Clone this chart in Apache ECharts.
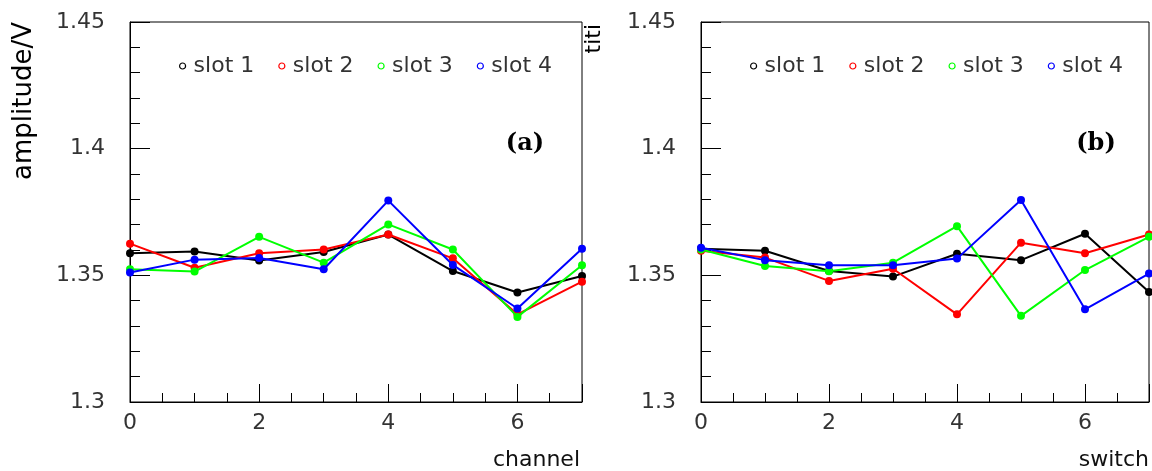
<!DOCTYPE html>
<html><head><meta charset="utf-8">
<script src="https://cdn.jsdelivr.net/npm/echarts@6/dist/echarts.min.js"></script>
<style>html,body{margin:0;padding:0;background:#fff}#c{width:1152px;height:471px}</style>
</head><body><div id="c"></div><script>
const xValues = [0, 1, 2, 3, 4, 5, 6, 7];
const seriesNames = ['slot 1', 'slot 2', 'slot 3', 'slot 4'];
const seriesColors = ['#000000', '#ff0000', '#00ff00', '#0000ff'];
const yTickValues = [1.3, 1.35, 1.4, 1.45];

// panel (a): amplitude vs channel
const channelSlot1 = [1.3587, 1.3594, 1.3559, 1.3592, 1.3661, 1.3517, 1.3432, 1.3497];
const channelSlot2 = [1.3625, 1.3530, 1.3587, 1.3602, 1.3661, 1.3567, 1.3346, 1.3475];
const channelSlot3 = [1.3524, 1.3515, 1.3652, 1.3550, 1.3701, 1.3602, 1.3336, 1.3540];
const channelSlot4 = [1.3511, 1.3562, 1.3568, 1.3524, 1.3795, 1.3541, 1.3369, 1.3605];

// panel (b): amplitude vs switch
const switchSlot1 = [1.3605, 1.3597, 1.3517, 1.3495, 1.3585, 1.3560, 1.3664, 1.3434];
const switchSlot2 = [1.3597, 1.3570, 1.3478, 1.3526, 1.3346, 1.3629, 1.3587, 1.3661];
const switchSlot3 = [1.3602, 1.3537, 1.3516, 1.3550, 1.3694, 1.3340, 1.3521, 1.3652];
const switchSlot4 = [1.3609, 1.3560, 1.3540, 1.3540, 1.3566, 1.3797, 1.3366, 1.3507];

const panels = [
  { data: [channelSlot1, channelSlot2, channelSlot3, channelSlot4], left: 130, width: 452, xName: 'channel', tag: '(a)' },
  { data: [switchSlot1, switchSlot2, switchSlot3, switchSlot4], left: 701, width: 450, xName: 'switch', tag: '(b)' }
];

const FONT = 'DejaVu Sans';
const TXT = '#333';
const TOP = 22, HEIGHT = 380;

const grid = [], xAxis = [], yAxis = [], series = [], legend = [], graphic = [];
panels.forEach((p, pi) => {
  grid.push({ left: p.left, width: p.width, top: TOP, height: HEIGHT, show: true, borderColor: '#000', borderWidth: 1, backgroundColor: 'transparent' });
  // major x axis
  xAxis.push({
    type: 'value', gridIndex: pi, min: 0, max: 7, interval: 2, position: 'bottom',
    axisLine: { show: true, lineStyle: { color: '#000', width: 1 } },
    axisTick: { show: true, inside: true, length: 18, lineStyle: { color: '#000', width: 1 } },
    axisLabel: { show: true, margin: 10, fontFamily: FONT, fontSize: 22, color: TXT,
      formatter: v => (v % 2 === 0 ? String(v) : '') },
    splitLine: { show: false }
  });
  // minor x axis (ticks every 0.5)
  xAxis.push({
    type: 'value', gridIndex: pi, min: 0, max: 7, interval: 0.5, position: 'bottom',
    axisLine: { show: false },
    axisTick: { show: true, inside: true, length: 9, lineStyle: { color: '#000', width: 1 } },
    axisLabel: { show: false }, splitLine: { show: false }
  });
  yAxis.push({
    type: 'value', gridIndex: pi, min: 1.3, max: 1.45, interval: 0.05,
    axisLine: { show: true, lineStyle: { color: '#000', width: 1 } },
    axisTick: { show: true, inside: true, length: 20, lineStyle: { color: '#000', width: 1 } },
    minorTick: { show: true, splitNumber: 5, length: 10, lineStyle: { color: '#000', width: 1 } },
    axisLabel: { show: true, margin: 25, fontFamily: FONT, fontSize: 22, color: TXT,
      formatter: v => { const t = yTickValues.find(q => Math.abs(q - v) < 1e-6); return t === undefined ? '' : String(t); } },
    splitLine: { show: false }
  });
  p.data.forEach((arr, si) => {
    series.push({
      type: 'line', name: seriesNames[si], xAxisIndex: pi * 2, yAxisIndex: pi,
      data: xValues.map((x, k) => [x, arr[k]]),
      symbol: 'circle', symbolSize: 8, showSymbol: true,
      lineStyle: { color: seriesColors[si], width: 2 },
      itemStyle: { color: seriesColors[si] },
      animation: false, z: 2 + si
    });
  });
  legend.push({
    left: p.left + 44, top: 50, orient: 'horizontal', selectedMode: false,
    itemWidth: 6, itemHeight: 6, itemGap: 24,
    textStyle: { fontFamily: FONT, fontSize: 22, color: TXT, padding: [0, 0, 0, 3] },
    data: seriesNames.map((n, si) => ({ name: n, icon: 'circle',
      itemStyle: { color: '#fff', borderColor: seriesColors[si], borderWidth: 1.2 } }))
  });
  graphic.push({
    type: 'text', x: p.left + p.width - 2, y: 460,
    style: { text: p.xName, fontFamily: FONT, fontSize: 22, fill: '#111', align: 'right', verticalAlign: 'middle' }
  });
  graphic.push({
    type: 'text', x: p.left + p.width - 57 + (pi ? 2 : 0), y: 144,
    style: { text: p.tag, fontFamily: 'DejaVu Serif', fontWeight: 'bold', fontSize: 24, fill: '#000', align: 'center', verticalAlign: 'middle' }
  });
});

graphic.push({
  type: 'text', x: 24, y: 22, rotation: Math.PI / 2,
  style: { text: 'amplitude/V', fontFamily: FONT, fontSize: 26, fill: '#000', align: 'right', verticalAlign: 'middle' }
});
graphic.push({
  type: 'text', x: 594, y: 24, rotation: Math.PI / 2,
  style: { text: 'titi', fontFamily: FONT, fontSize: 22, fill: '#000', align: 'right', verticalAlign: 'middle' }
});

const chart = echarts.init(document.getElementById('c'), null, { renderer: 'canvas' });
chart.setOption({ animation: false, backgroundColor: '#fff', grid, xAxis, yAxis, series, legend, graphic });
</script></body></html>
